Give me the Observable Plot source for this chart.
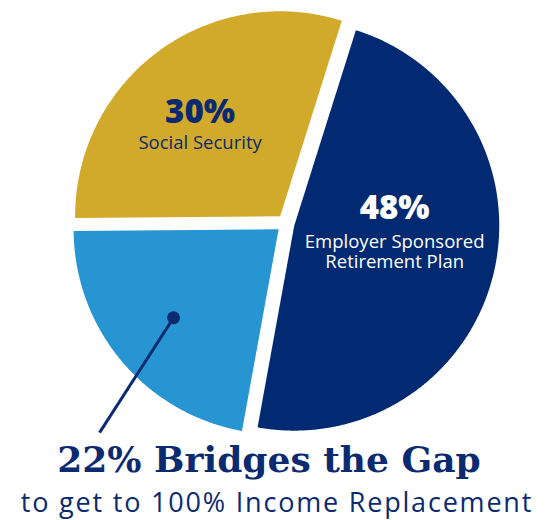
<!DOCTYPE html>
<html>
<head>
<meta charset="utf-8">
<script src="https://cdn.jsdelivr.net/npm/d3@7"></script>
<script src="https://cdn.jsdelivr.net/npm/@observablehq/plot@0.6"></script>
<style>
  html, body { margin: 0; padding: 0; background: #ffffff; }
  #wrap { position: relative; width: 556px; height: 520px; overflow: hidden; }
  #chart svg { display: block; }
  .headline {
    position: absolute; left: -9px; width: 556px; top: 441px;
    text-align: center; white-space: nowrap;
    font-family: "DejaVu Serif", serif; font-weight: bold; font-size: 36px; line-height: 36px;
    color: #0b2a70;
  }
  .subtitle {
    position: absolute; left: -1px; width: 556px; top: 488px;
    text-align: center; white-space: nowrap;
    font-family: "Open Sans", sans-serif; font-weight: 400; font-size: 27px; line-height: 27px;
    letter-spacing: 1.8px;
    color: #0b2a70;
  }
</style>
</head>
<body>
<div id="wrap">
  <div id="chart"></div>
  <div class="headline">22% Bridges the Gap</div>
  <div class="subtitle">to get to 100% Income Replacement</div>
</div>
<script>
// ---- data ----
const categories = ["Employer Sponsored Retirement Plan", "Bridges the Gap", "Social Security"];
const values = [48, 22, 30];
const percentLabels = ["48%", "", "30%"];
const nameLabels = ["Employer Sponsored\nRetirement Plan", "", "Social Security"];
const colors = ["#012a72", "#2895d3", "#d1a92b"];

// ---- geometry (unit pie: radius 1, center 0,0; angles clockwise from 12 o'clock) ----
const startAngle = 17.5 * Math.PI / 180;
const explode = 9 / 205;
const W = 556, H = 440;
const cx = 285, cy = 223, R = 205;

const arcs = d3.pie().sort(null).value(d => d)
  .startAngle(startAngle).endAngle(startAngle + 2 * Math.PI)(values);

const slicePoints = arcs.flatMap((a, i) => {
  const m = (a.startAngle + a.endAngle) / 2;
  const ox = explode * Math.sin(m), oy = explode * Math.cos(m);
  const pts = [{cat: categories[i], x: ox, y: oy}];
  const n = Math.ceil((a.endAngle - a.startAngle) / (Math.PI / 360));
  for (let k = 0; k <= n; k++) {
    const t = a.startAngle + (a.endAngle - a.startAngle) * k / n;
    pts.push({cat: categories[i], x: ox + Math.sin(t), y: oy + Math.cos(t)});
  }
  pts.push({cat: categories[i], x: ox, y: oy});
  return pts;
});

const labelRadius = 0.55;
const labels = arcs.map((a, i) => {
  const m = (a.startAngle + a.endAngle) / 2;
  const r = explode + labelRadius;
  return {i, pct: percentLabels[i], name: nameLabels[i], x: r * Math.sin(m), y: r * Math.cos(m)};
});

// pointer from the 22% slice to the headline
const pointerRadius = explode + 0.67;
const blue = arcs[1];
const bm = (blue.startAngle + blue.endAngle) / 2;
const pointerStart = {x: pointerRadius * Math.sin(bm), y: pointerRadius * Math.cos(bm)};
const pointerEnd = {x: -0.907, y: -1.02};

const navy = "#0b2a70";
const sans = "Open Sans, sans-serif";

const chart = Plot.plot({
  width: W, height: H, margin: 0,
  x: {domain: [-cx / R, (W - cx) / R], range: [0, W], axis: null},
  y: {domain: [(cy - H) / R, cy / R], range: [H, 0], axis: null},
  color: {domain: categories, range: colors},
  marks: [
    Plot.line(slicePoints, {x: "x", y: "y", z: "cat", fill: "cat", stroke: "none"}),
    // navy slice labels
    Plot.text(labels, {filter: d => d.i === 0, x: "x", y: "y", text: "pct", lineAnchor: "bottom",
      dx: -9, dy: -34, fill: "#ffffff", fontFamily: sans, fontWeight: 800, fontSize: 33}),
    Plot.text(labels, {filter: d => d.i === 0, x: "x", y: "y", text: "name", lineAnchor: "bottom",
      dx: -9, dy: 15, lineHeight: 1.08, fill: "#ffffff", fontFamily: sans, fontSize: 18.5}),
    // yellow slice labels
    Plot.text(labels, {filter: d => d.i === 2, x: "x", y: "y", text: "pct", lineAnchor: "bottom",
      dx: -13, dy: -3, fill: navy, fontFamily: sans, fontWeight: 800, fontSize: 33}),
    Plot.text(labels, {filter: d => d.i === 2, x: "x", y: "y", text: "name", lineAnchor: "bottom",
      dx: -13, dy: 23, fill: navy, fontFamily: sans, fontSize: 18.5}),
    // pointer
    Plot.link([{x1: pointerStart.x, y1: pointerStart.y, x2: pointerEnd.x, y2: pointerEnd.y}],
      {x1: "x1", y1: "y1", x2: "x2", y2: "y2", stroke: navy, strokeWidth: 3}),
    Plot.dot([pointerStart], {x: "x", y: "y", r: 6.5, fill: navy, stroke: "none"})
  ]
});
document.getElementById("chart").append(chart);
</script>
</body>
</html>
